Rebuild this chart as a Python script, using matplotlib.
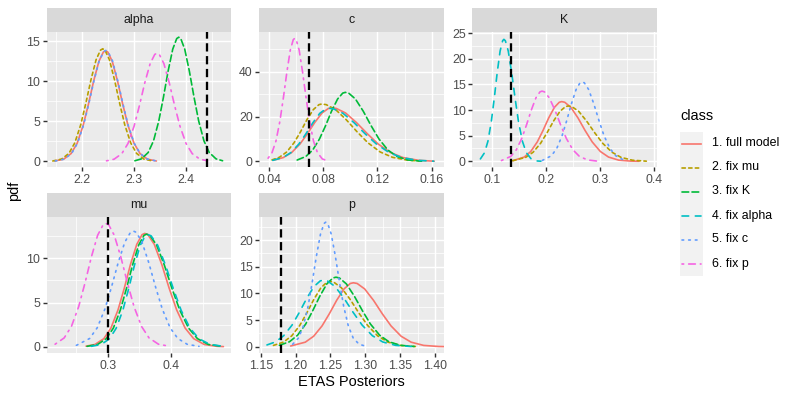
import matplotlib
matplotlib.use('Agg')
import matplotlib.pyplot as plt
from matplotlib.ticker import MultipleLocator, FormatStrFormatter
from matplotlib.lines import Line2D

plt.rcParams['font.family'] = ['Liberation Sans', 'DejaVu Sans']

# posterior densities, one list per facet and class
alpha_full_x = [2.1467, 2.1641, 2.1785, 2.1901, 2.2016, 2.2118, 2.2219, 2.2320, 2.2407, 2.245, 2.2493, 2.2580, 2.2681, 2.2782, 2.2884, 2.2999, 2.3115, 2.3259, 2.3433]
alpha_full_y = [0.04, 0.27, 0.98, 2.27, 4.48, 7.12, 10.02, 12.47, 13.65, 13.8, 13.65, 12.47, 10.02, 7.12, 4.48, 2.27, 0.98, 0.27, 0.04]
alpha_mu_x = [2.1429, 2.1600, 2.1742, 2.1855, 2.1969, 2.2068, 2.2168, 2.2267, 2.2352, 2.2395, 2.2438, 2.2523, 2.2622, 2.2722, 2.2821, 2.2935, 2.3048, 2.3190, 2.3361]
alpha_mu_y = [0.04, 0.28, 1.00, 2.31, 4.56, 7.25, 10.20, 12.70, 13.89, 14.05, 13.89, 12.70, 10.20, 7.25, 4.56, 2.31, 1.00, 0.28, 0.04]
alpha_K_x = [2.3017, 2.3145, 2.3274, 2.3377, 2.3479, 2.3569, 2.3659, 2.3749, 2.3826, 2.3865, 2.3904, 2.3981, 2.4071, 2.4161, 2.4251, 2.4353, 2.4456, 2.4585, 2.4713]
alpha_K_y = [0.07, 0.31, 1.10, 2.55, 5.03, 8.00, 11.25, 14.01, 15.33, 15.5, 15.33, 14.01, 11.25, 8.00, 5.03, 2.55, 1.10, 0.31, 0.07]
alpha_c_x = [2.1476, 2.1649, 2.1793, 2.1908, 2.2023, 2.2124, 2.2225, 2.2325, 2.2412, 2.2455, 2.2498, 2.2585, 2.2685, 2.2786, 2.2887, 2.3002, 2.3117, 2.3261, 2.3434]
alpha_c_y = [0.04, 0.27, 0.98, 2.28, 4.50, 7.15, 10.06, 12.52, 13.69, 13.85, 13.69, 12.52, 10.06, 7.15, 4.50, 2.28, 0.98, 0.27, 0.04]
alpha_p_x = [2.2468, 2.2616, 2.2764, 2.2883, 2.3001, 2.3105, 2.3208, 2.3312, 2.3401, 2.3445, 2.3489, 2.3578, 2.3682, 2.3785, 2.3889, 2.4007, 2.4126, 2.4274, 2.4422]
alpha_p_y = [0.06, 0.27, 0.96, 2.22, 4.38, 6.97, 9.80, 12.20, 13.35, 13.5, 13.35, 12.20, 9.80, 6.97, 4.38, 2.22, 0.96, 0.27, 0.06]

c_full_x = [0.0426, 0.0503, 0.0565, 0.0627, 0.0682, 0.0736, 0.0790, 0.0837, 0.086, 0.0895, 0.0964, 0.1044, 0.1125, 0.1205, 0.1297, 0.1389, 0.1504, 0.1619]
c_full_y = [0.47, 1.70, 3.93, 7.76, 12.34, 17.35, 21.60, 23.63, 23.9, 23.63, 21.60, 17.35, 12.34, 7.76, 3.93, 1.70, 0.47, 0.10]
c_mu_x = [0.0420, 0.0474, 0.0529, 0.0583, 0.0631, 0.0678, 0.0726, 0.0767, 0.0787, 0.0821, 0.0890, 0.0969, 0.1049, 0.1129, 0.1220, 0.1311, 0.1425, 0.1539]
c_mu_y = [0.67, 1.82, 4.21, 8.31, 13.21, 18.59, 23.13, 25.31, 25.6, 25.31, 23.13, 18.59, 13.21, 8.31, 4.21, 1.82, 0.51, 0.11]
c_K_x = [0.0606, 0.0670, 0.0721, 0.0771, 0.0816, 0.0860, 0.0905, 0.0943, 0.0962, 0.0987, 0.1037, 0.1095, 0.1153, 0.1211, 0.1277, 0.1344, 0.1427, 0.1526]
c_K_y = [0.61, 2.19, 5.07, 10.00, 15.90, 22.36, 27.83, 30.46, 30.8, 30.46, 27.83, 22.36, 15.90, 10.00, 5.07, 2.19, 0.61, 0.10]
c_alpha_x = [0.0426, 0.0500, 0.0559, 0.0618, 0.0670, 0.0722, 0.0773, 0.0818, 0.084, 0.0875, 0.0946, 0.1028, 0.1110, 0.1193, 0.1287, 0.1381, 0.1498, 0.1616]
c_alpha_y = [0.47, 1.68, 3.90, 7.70, 12.23, 17.21, 21.42, 23.43, 23.7, 23.43, 21.42, 17.21, 12.23, 7.70, 3.90, 1.68, 0.47, 0.10]
c_p_x = [0.0391, 0.0420, 0.0449, 0.0478, 0.0504, 0.0530, 0.0555, 0.0577, 0.0588, 0.0599, 0.0621, 0.0646, 0.0672, 0.0698, 0.0727, 0.0756, 0.0792, 0.0836]
c_p_y = [1.43, 3.90, 9.03, 17.83, 28.34, 39.86, 49.61, 54.28, 54.9, 54.28, 49.61, 39.86, 28.34, 17.83, 9.03, 3.90, 1.09, 0.17]

K_full_x = [0.1391, 0.1602, 0.1722, 0.1842, 0.1948, 0.2053, 0.2159, 0.2249, 0.2294, 0.2350, 0.2463, 0.2595, 0.2726, 0.2858, 0.3008, 0.3159, 0.3347, 0.3572, 0.3723]
K_full_y = [0.13, 0.83, 1.92, 3.78, 6.01, 8.46, 10.53, 11.52, 11.65, 11.52, 10.53, 8.46, 6.01, 3.78, 1.92, 0.83, 0.23, 0.04, 0.01]
K_mu_x = [0.1390, 0.1629, 0.1766, 0.1903, 0.2023, 0.2142, 0.2262, 0.2365, 0.2416, 0.2480, 0.2607, 0.2755, 0.2904, 0.3052, 0.3222, 0.3391, 0.3603, 0.3858]
K_mu_y = [0.12, 0.77, 1.78, 3.51, 5.57, 7.84, 9.76, 10.68, 10.8, 10.68, 9.76, 7.84, 5.57, 3.51, 1.78, 0.77, 0.21, 0.03]
K_alpha_x = [0.0791, 0.0868, 0.0930, 0.0992, 0.1047, 0.1101, 0.1155, 0.1202, 0.1225, 0.1252, 0.1306, 0.1369, 0.1432, 0.1495, 0.1567, 0.1639, 0.1729, 0.1837, 0.1909]
K_alpha_y = [0.47, 1.69, 3.92, 7.73, 12.29, 17.28, 21.51, 23.53, 23.8, 23.53, 21.51, 17.28, 12.29, 7.73, 3.92, 1.69, 0.47, 0.07, 0.02]
K_c_x = [0.1935, 0.2106, 0.2204, 0.2302, 0.2388, 0.2474, 0.256, 0.2633, 0.267, 0.2711, 0.2792, 0.2886, 0.2981, 0.3075, 0.3183, 0.3291, 0.3426, 0.3507]
K_c_y = [0.17, 1.10, 2.55, 5.03, 8.00, 11.25, 14.01, 15.33, 15.5, 15.33, 14.01, 11.25, 8.00, 5.03, 2.55, 1.10, 0.31, 0.13]
K_p_x = [0.118, 0.1355, 0.1455, 0.1555, 0.1642, 0.173, 0.1817, 0.1892, 0.193, 0.1975, 0.2065, 0.217, 0.2275, 0.238, 0.25, 0.262, 0.277, 0.295]
K_p_y = [0.15, 0.97, 2.25, 4.45, 7.07, 9.95, 12.38, 13.55, 13.7, 13.55, 12.38, 9.95, 7.07, 4.45, 2.25, 0.97, 0.27, 0.04]

mu_full_x = [0.2658, 0.2798, 0.2939, 0.3051, 0.3163, 0.3262, 0.336, 0.3459, 0.3543, 0.3585, 0.3635, 0.3736, 0.3854, 0.3971, 0.4089, 0.4223, 0.4358, 0.4526, 0.4727, 0.4828]
mu_full_y = [0.06, 0.25, 0.91, 2.11, 4.17, 6.62, 9.32, 11.59, 12.69, 12.83, 12.69, 11.59, 9.32, 6.62, 4.17, 2.11, 0.91, 0.25, 0.04, 0.01]
mu_K_x = [0.2673, 0.2839, 0.2978, 0.3089, 0.3199, 0.3296, 0.3393, 0.349, 0.3573, 0.3615, 0.3667, 0.3772, 0.3894, 0.4016, 0.4139, 0.4278, 0.4418, 0.4592, 0.4802]
mu_K_y = [0.04, 0.25, 0.91, 2.10, 4.14, 6.58, 9.26, 11.52, 12.61, 12.75, 12.61, 11.52, 9.26, 6.58, 4.14, 2.10, 0.91, 0.25, 0.04]
mu_alpha_x = [0.2741, 0.2898, 0.3029, 0.3134, 0.3239, 0.3331, 0.3422, 0.3514, 0.3593, 0.3632, 0.3685, 0.379, 0.3914, 0.4037, 0.416, 0.4301, 0.4442, 0.4618, 0.4829]
mu_alpha_y = [0.04, 0.25, 0.90, 2.09, 4.12, 6.56, 9.22, 11.48, 12.56, 12.7, 12.56, 11.48, 9.22, 6.56, 4.12, 2.09, 0.90, 0.25, 0.04]
mu_c_x = [0.2505, 0.2715, 0.2835, 0.2955, 0.306, 0.3165, 0.327, 0.336, 0.3405, 0.3451, 0.3542, 0.3649, 0.3756, 0.3863, 0.3985, 0.4107, 0.4259, 0.4442]
mu_c_y = [0.15, 0.93, 2.15, 4.25, 6.76, 9.51, 11.84, 12.95, 13.1, 12.95, 11.84, 9.51, 6.76, 4.25, 2.15, 0.93, 0.26, 0.04]
mu_p_x = [0.2169, 0.2312, 0.2427, 0.2541, 0.2641, 0.2741, 0.2841, 0.2927, 0.297, 0.3015, 0.3104, 0.3208, 0.3312, 0.3416, 0.3534, 0.3653, 0.3802, 0.398]
mu_p_y = [0.28, 0.99, 2.30, 4.53, 7.21, 10.14, 12.62, 13.80, 13.96, 13.80, 12.62, 10.14, 7.21, 4.53, 2.30, 0.99, 0.28, 0.04]

p_full_x = [1.193, 1.214, 1.226, 1.238, 1.2485, 1.259, 1.2695, 1.2785, 1.283, 1.2884, 1.2992, 1.3118, 1.3244, 1.337, 1.3514, 1.3658, 1.3838, 1.4054, 1.4126]
p_full_y = [0.13, 0.85, 1.97, 3.90, 6.19, 8.71, 10.84, 11.87, 12.0, 11.87, 10.84, 8.71, 6.19, 3.90, 1.97, 0.85, 0.24, 0.04, 0.02]
p_mu_x = [1.1683, 1.1828, 1.1944, 1.206, 1.2161, 1.2263, 1.2364, 1.2451, 1.2495, 1.2549, 1.2657, 1.2783, 1.2909, 1.3035, 1.3179, 1.3323, 1.3503, 1.3719]
p_mu_y = [0.24, 0.87, 2.02, 3.98, 6.32, 8.89, 11.07, 12.11, 12.25, 12.11, 11.07, 8.89, 6.32, 3.98, 2.02, 0.87, 0.24, 0.04]
p_K_x = [1.1768, 1.1913, 1.2029, 1.2145, 1.2246, 1.2348, 1.2449, 1.2536, 1.258, 1.263, 1.2729, 1.2844, 1.296, 1.3075, 1.3207, 1.3339, 1.3504, 1.3702]
p_K_y = [0.26, 0.93, 2.15, 4.24, 6.74, 9.48, 11.79, 12.90, 13.05, 12.90, 11.79, 9.48, 6.74, 4.24, 2.15, 0.93, 0.26, 0.04]
p_alpha_x = [1.159, 1.171, 1.183, 1.195, 1.2055, 1.216, 1.2265, 1.2355, 1.24, 1.2456, 1.2567, 1.2696, 1.2826, 1.2955, 1.3103, 1.3251, 1.3436, 1.3658]
p_alpha_y = [0.33, 0.89, 2.06, 4.06, 6.45, 9.08, 11.30, 12.36, 12.5, 12.36, 11.30, 9.08, 6.45, 4.06, 2.06, 0.89, 0.25, 0.04]
p_c_x = [1.1959, 1.2044, 1.2112, 1.218, 1.2239, 1.2299, 1.2358, 1.2409, 1.2435, 1.2461, 1.2512, 1.2571, 1.2631, 1.269, 1.2758, 1.2826, 1.2911, 1.3013]
p_c_y = [0.46, 1.66, 3.85, 7.60, 12.08, 16.99, 21.15, 23.14, 23.4, 23.14, 21.15, 16.99, 12.08, 7.60, 3.85, 1.66, 0.46, 0.07]

# reference values (dashed vertical lines)
true_values = {'alpha': 2.4406, 'c': 0.0694, 'K': 0.1357, 'mu': 0.300, 'p': 1.1787}

classes = ['1. full model', '2. fix mu', '3. fix K', '4. fix alpha', '5. fix c', '6. fix p']
colors = ['#F8766D', '#B79F00', '#00BA38', '#00BFC4', '#619CFF', '#F564E3']
dashes = [None, (2, 2), (4, 2), (4, 4), (1, 3), (1, 3, 4, 3)]

curves = {
    'alpha': [(0, alpha_full_x, alpha_full_y), (1, alpha_mu_x, alpha_mu_y), (2, alpha_K_x, alpha_K_y),
              (4, alpha_c_x, alpha_c_y), (5, alpha_p_x, alpha_p_y)],
    'c': [(0, c_full_x, c_full_y), (1, c_mu_x, c_mu_y), (2, c_K_x, c_K_y),
          (3, c_alpha_x, c_alpha_y), (5, c_p_x, c_p_y)],
    'K': [(0, K_full_x, K_full_y), (1, K_mu_x, K_mu_y), (3, K_alpha_x, K_alpha_y),
          (4, K_c_x, K_c_y), (5, K_p_x, K_p_y)],
    'mu': [(0, mu_full_x, mu_full_y), (2, mu_K_x, mu_K_y), (3, mu_alpha_x, mu_alpha_y),
           (4, mu_c_x, mu_c_y), (5, mu_p_x, mu_p_y)],
    'p': [(0, p_full_x, p_full_y), (1, p_mu_x, p_mu_y), (2, p_K_x, p_K_y),
          (3, p_alpha_x, p_alpha_y), (4, p_c_x, p_c_y)],
}

# axis setup per facet: xlim, ylim, x step, y step, x label format
axis_cfg = {
    'alpha': ((2.1311, 2.4876), (-0.71, 16.2), 0.1, 5, '%.1f'),
    'c': ((0.0326, 0.1689), (-2.5, 57.9), 0.04, 20, '%.2f'),
    'K': ((0.0641, 0.4048), (-1.11, 25.31), 0.1, 5, '%.1f'),
    'mu': ((0.2036, 0.4948), (-0.75, 14.7), 0.1, 5, '%.1f'),
    'p': ((1.148, 1.4124), (-1.24, 24.37), 0.05, 5, '%.2f'),
}

W, H = 793, 397
fig = plt.figure(figsize=(W / 100, H / 100), dpi=100)


def px_rect(left, top, w, h):
    return [left / W, 1 - (top + h) / H, w / W, h / H]


col_left = [46.7, 259.3, 472.3]
panel_w = 184.3
strip_h = 23.6
rows = [(8.0, 135.4), (193.3, 136.4)]
positions = {'alpha': (0, 0), 'c': (0, 1), 'K': (0, 2), 'mu': (1, 0), 'p': (1, 1)}

lw = 1.2
small = 8.9
big = 10.45
for facet, (r, c) in positions.items():
    strip_top, ph = rows[r]
    left = col_left[c]
    # strip
    sax = fig.add_axes(px_rect(left, strip_top, panel_w, strip_h))
    sax.set_facecolor('#D9D9D9')
    sax.set_xticks([])
    sax.set_yticks([])
    for s in sax.spines.values():
        s.set_visible(False)
    sax.text(0.5, 0.5, facet, ha='center', va='center', fontsize=small, color='#1A1A1A',
             transform=sax.transAxes)

    ax = fig.add_axes(px_rect(left, strip_top + strip_h, panel_w, ph))
    ax.set_facecolor('#EBEBEB')
    for s in ax.spines.values():
        s.set_visible(False)
    xlim, ylim, xstep, ystep, xfmt = axis_cfg[facet]

    for idx, xs, ys in curves[facet]:
        line, = ax.plot(xs, ys, color=colors[idx], lw=lw, solid_capstyle='round')
        if dashes[idx] is not None:
            line.set_dashes(dashes[idx])
            line.set_dash_capstyle('round')
    vl = ax.axvline(true_values[facet], color='black', lw=1.65)
    vl.set_dashes((3.6, 2.0))

    ax.set_xlim(xlim)
    ax.set_ylim(ylim)
    ax.xaxis.set_major_locator(MultipleLocator(xstep))
    ax.xaxis.set_minor_locator(MultipleLocator(xstep / 2))
    ax.yaxis.set_major_locator(MultipleLocator(ystep))
    ax.yaxis.set_minor_locator(MultipleLocator(ystep / 2))
    ax.xaxis.set_major_formatter(FormatStrFormatter(xfmt))
    ax.yaxis.set_major_formatter(FormatStrFormatter('%d'))
    ax.grid(which='major', color='white', lw=1.02)
    ax.grid(which='minor', color='white', lw=0.51)
    ax.set_axisbelow(True)
    ax.tick_params(which='major', length=2.64, width=1.02, color='#333333',
                   labelcolor='#4D4D4D', labelsize=small, pad=2.1)
    ax.tick_params(which='minor', length=0)

# axis titles
fig.text(351.5 / W, 1 - 381.7 / H, 'ETAS Posteriors', ha='center', va='center', fontsize=big)
fig.text(14 / W, 1 - 191 / H, 'pdf', ha='center', va='center', rotation=90, fontsize=big)

# legend
fig.text(680 / W, 1 - 116 / H, 'class', ha='left', va='center', fontsize=big)
lax = fig.add_axes(px_rect(680, 131.5, 23.3, 144))
lax.set_facecolor('#F2F2F2')
lax.set_xlim(0, 1)
lax.set_ylim(6, 0)
lax.set_xticks([])
lax.set_yticks([])
for s in lax.spines.values():
    s.set_visible(False)
for i, name in enumerate(classes):
    ln = Line2D([0.08, 0.92], [i + 0.5, i + 0.5], color=colors[i], lw=lw)
    if dashes[i] is not None:
        ln.set_dashes(dashes[i])
        ln.set_dash_capstyle('round')
    lax.add_line(ln)
    fig.text(711.7 / W, 1 - (131.5 + 24 * i + 12) / H, name, ha='left', va='center', fontsize=small)

fig.savefig('out.png', dpi=100)
